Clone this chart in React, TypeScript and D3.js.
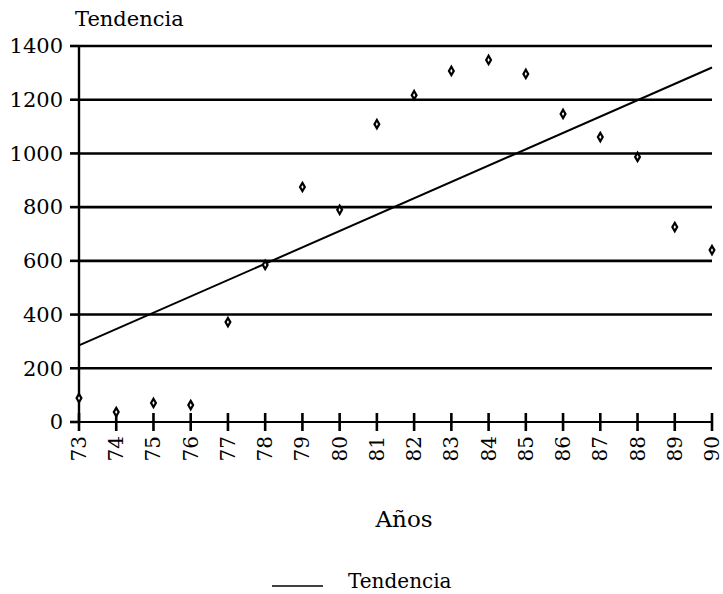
import React from "react";
import * as d3 from "d3";

const years = [73, 74, 75, 76, 77, 78, 79, 80, 81, 82, 83, 84, 85, 86, 87, 88, 89, 90];
const values = [89, 37, 71, 63, 372, 585, 875, 790, 1109, 1217, 1307, 1348, 1296, 1147, 1061, 987, 726, 640];
const trendYears = [73, 90];
const trendValues = [285, 1320];
const yTicks = [0, 200, 400, 600, 800, 1000, 1200, 1400];
const title = "Tendencia";
const xTitle = "Años";
const legendLabel = "Tendencia";

const W = 723;
const H = 594;
const left = 79;
const right = 712;
const top = 46;
const bottom = 422;
const font = "'DejaVu Serif', serif";

export default function App() {
  const x = d3.scaleLinear().domain([73, 90]).range([left, right]);
  const y = d3.scaleLinear().domain([0, 1400]).range([bottom, top]);
  const trendLine = d3
    .line<number>()
    .x((_, i) => x(trendYears[i]))
    .y((d) => y(d))(trendValues) as string;
  const diamond = d3.symbol(d3.symbolDiamond, 20)() as string;

  return (
    <svg
      width={W}
      height={H}
      style={{ position: "absolute", left: 0, top: 0, background: "#fff" }}
    >
      <text x={75} y={26} fontFamily={font} fontSize={21} fill="#000">
        {title}
      </text>
      {yTicks.map((t) => (
        <g key={t}>
          {t > 0 && (
            <line x1={left} x2={right} y1={y(t)} y2={y(t)} stroke="#000" strokeWidth={2.6} />
          )}
          <line x1={left - 9} x2={left} y1={y(t)} y2={y(t)} stroke="#000" strokeWidth={2.6} />
          <text
            x={63}
            y={y(t)}
            dy="0.35em"
            textAnchor="end"
            fontFamily={font}
            fontSize={21}
            fill="#000"
          >
            {t}
          </text>
        </g>
      ))}
      <line x1={left} x2={left} y1={top} y2={bottom} stroke="#000" strokeWidth={2.4} />
      <line x1={left} x2={right} y1={bottom} y2={bottom} stroke="#000" strokeWidth={2} />
      {years.map((yr) => (
        <g key={yr}>
          <line
            x1={x(yr)}
            x2={x(yr)}
            y1={bottom - 9}
            y2={bottom + 9}
            stroke="#000"
            strokeWidth={2.6}
          />
          <text
            transform={`translate(${x(yr)},${bottom + 14}) rotate(-90)`}
            textAnchor="end"
            dy="0.35em"
            fontFamily={font}
            fontSize={20}
            fill="#000"
          >
            {yr}
          </text>
        </g>
      ))}
      <path d={trendLine} fill="none" stroke="#000" strokeWidth={2} />
      {years.map((yr, i) => (
        <path
          key={"p" + yr}
          d={diamond}
          transform={`translate(${x(yr)},${y(values[i])})`}
          fill="#fff"
          stroke="#000"
          strokeWidth={2.2}
        />
      ))}
      <text
        x={404}
        y={527}
        textAnchor="middle"
        fontFamily={font}
        fontSize={23}
        fill="#000"
      >
        {xTitle}
      </text>
      <line x1={272} x2={323} y1={586} y2={586} stroke="#000" strokeWidth={1.5} />
      <text x={348} y={588} fontFamily={font} fontSize={20} fill="#000">
        {legendLabel}
      </text>
    </svg>
  );
}
